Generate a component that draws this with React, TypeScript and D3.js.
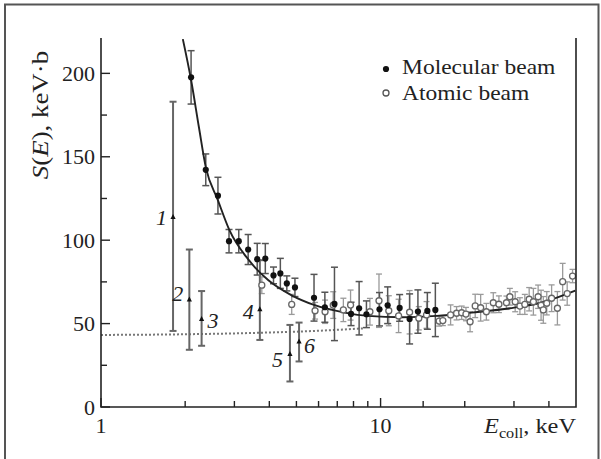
import React from "react";
import * as d3 from "d3";

// ---- data ----
const molE = [2.10, 2.37, 2.62, 2.87, 3.11, 3.36, 3.62, 3.87, 4.14, 4.38, 4.62, 4.94, 5.78, 6.32, 6.84, 7.84, 8.38, 8.9, 9.91, 10.6, 11.7, 12.7, 13.6, 14.7, 15.7];
const molS = [197.6, 142.2, 126.7, 99.4, 99.4, 94.4, 88.6, 89.0, 78.9, 80.1, 74.1, 71.7, 65.5, 59.8, 61.8, 55.8, 59.2, 55.6, 58.6, 61.0, 59.4, 52.8, 57.2, 57.6, 58.2];
const molErr = [16, 9.5, 11, 7, 7, 9, 9.5, 9, 5, 9, 4.5, 5.5, 14, 9, 22, 7, 16, 8, 10, 11, 8, 15, 13, 11, 16];

const atE = [3.76, 4.81, 5.83, 6.33, 6.77, 7.36, 7.81, 9.16, 9.87, 10.7, 11.6, 12.7, 13.7, 14.6, 16.2, 16.7, 17.8, 18.7, 19.5, 20.2, 20.9, 21.8, 22.8, 23.9, 25.3, 26.5, 28.2, 29.0, 30.3, 31.5, 32.8, 34.0, 35.2, 36.6, 37.5, 38.2, 39.3, 40.9, 42.9, 44.8, 46.5, 48.6];
const atS = [73.0, 61.5, 57.7, 57.1, 61.1, 58.2, 61.1, 57.1, 63.7, 57.7, 54.6, 56.8, 53.2, 55.2, 51.5, 51.8, 55.2, 56.2, 56.5, 55.7, 51.1, 60.6, 59.5, 57.1, 62.5, 61.6, 62.5, 66.1, 63.1, 60.5, 61.5, 64.6, 63.1, 66.1, 61.0, 58.2, 62.2, 65.2, 59.2, 75.1, 68.0, 78.5];
const atErr = [5, 6, 5, 7, 8, 7, 9, 8, 16, 9, 10, 13, 7, 8, 3, 3, 6, 4, 4, 4, 6, 7, 8, 5, 6, 5, 4, 5, 6, 5, 6, 7, 8, 7, 9, 8, 7, 8, 10, 11, 7, 4];

const labNames = ["1", "2", "3", "4", "5", "6"];
const labE = [1.81, 2.07, 2.29, 3.70, 4.74, 5.11];
const labS = [113.9, 64.5, 52.8, 58.6, 31.7, 39.2];
const labLo = [45.6, 34.3, 36.7, 40.2, 15.3, 27.3];
const labHi = [183.0, 94.4, 69.5, 88.0, 49.2, 50.6];

const fitE = [1.962, 2.10, 2.24, 2.37, 2.62, 2.88, 3.38, 3.96, 4.79, 5.78, 7.45, 9.01, 11.97, 15.9, 21.2, 29.0, 38.6, 49.7];
const fitS = [220.5, 196.0, 167.7, 143.8, 123.9, 106.0, 88.0, 76.1, 67.1, 61.2, 56.6, 54.6, 53.8, 54.6, 56.6, 59.2, 63.1, 69.7];

const dotE = [1, 2, 3.7, 6, 8.8];
const dotS = [43.2, 43.6, 44.5, 45.7, 47.2];

const yMajor = [0, 50, 100, 150, 200];
const yMinor = [25, 75, 125, 175];
const xMajor = [1, 10];
const xMinor = [2, 3, 4, 5, 6, 7, 8, 9, 14.2, 20, 30, 40];

// ---- layout ----
const W = 601, H = 459;
const L = 101, R = 576, T = 38, B = 407;
const labDx = [-6, -6, 6, -6, -7, 5];
const labDy = [0, -6, 1, 2, 5, 4];
const SX = 1.12; // horizontal stretch of the reference's typeface
const tx: React.CSSProperties = { fontFamily: '"Liberation Serif"' };

export default function App() {
  const x = d3.scaleLog().domain([1, 50]).range([L, R]);
  const y = d3.scaleLinear().domain([0, 221.2]).range([B, T]);

  const fitLine = d3.line<number>().x((_, i) => x(fitE[i])).y((_, i) => y(fitS[i])).curve(d3.curveMonotoneX);
  const dotLine = d3.line<number>().x((_, i) => x(dotE[i])).y((_, i) => y(dotS[i])).curve(d3.curveMonotoneX);

  const errBar = (cx: number, lo: number, hi: number, color: string, w: number, cap: number, key: string) => (
    <g key={key} stroke={color} strokeWidth={w}>
      <line x1={cx} x2={cx} y1={y(lo)} y2={y(hi)} />
      <line x1={cx - cap} x2={cx + cap} y1={y(lo)} y2={y(lo)} />
      <line x1={cx - cap} x2={cx + cap} y1={y(hi)} y2={y(hi)} />
    </g>
  );

  return (
    <svg width={W} height={H} style={{ position: "absolute", left: 0, top: 0, background: "#fff" }}>
      {/* outer frame */}
      <path d={`M5,${H} V4.5 H598.5 V${H}`} fill="none" stroke="#555" strokeWidth={2} />

      <defs>
        <clipPath id="plot">
          <rect x={L} y={T} width={R - L} height={B - T} />
        </clipPath>
      </defs>

      {/* dotted bare line */}
      <path d={dotLine(dotE) || ""} fill="none" stroke="#777" strokeWidth={2} strokeDasharray="2,2" />

      {/* atomic error bars */}
      {atE.map((e, i) => errBar(x(e), atS[i] - atErr[i], atS[i] + atErr[i], "#9a9a9a", 1.3, 3, "ae" + i))}
      {/* molecular error bars */}
      {molE.map((e, i) => errBar(x(e), molS[i] - molErr[i], molS[i] + molErr[i], "#555", 1.5, 3.5, "me" + i))}
      {/* labelled points error bars */}
      {labE.map((e, i) => errBar(x(e), labLo[i], labHi[i], "#666", 2, 3.5, "le" + i))}

      {/* fit curve */}
      <g clipPath="url(#plot)">
        <path d={fitLine(fitE) || ""} fill="none" stroke="#222" strokeWidth={1.9} />
      </g>

      {/* atomic points */}
      {atE.map((e, i) => (
        <circle key={"a" + i} cx={x(e)} cy={y(atS[i])} r={3} fill="#fff" stroke="#666" strokeWidth={1.3} />
      ))}
      {/* molecular points */}
      {molE.map((e, i) => (
        <circle key={"m" + i} cx={x(e)} cy={y(molS[i])} r={3.1} fill="#111" />
      ))}
      {/* labelled points */}
      {labE.map((e, i) => {
        const cx = x(e), cy = y(labS[i]);
        return (
          <g key={"l" + i}>
            <path d={`M${cx},${cy - 3} L${cx + 2.6},${cy + 2} L${cx - 2.6},${cy + 2} Z`} fill="#111" />
            <text x={cx + labDx[i]} y={cy + labDy[i]} dy="0.35em" fontSize={22} fontStyle="italic" style={tx}
              textAnchor={labDx[i] < 0 ? "end" : "start"} fill="#222">{labNames[i]}</text>
          </g>
        );
      })}

      {/* axes box */}
      <path d={`M${L},${T} V${B} H${R} V${T}`} fill="none" stroke="#222" strokeWidth={1.6} />

      {/* y ticks */}
      {yMajor.map((v) => (
        <g key={"ym" + v}>
          <line x1={L} x2={L + 9} y1={y(v)} y2={y(v)} stroke="#222" strokeWidth={1.4} />
          <text x={95} y={y(v)} dy="0.35em" textAnchor="end" fontSize={22} fill="#222" style={tx}>{v}</text>
        </g>
      ))}
      {yMinor.map((v) => (
        <line key={"yn" + v} x1={L} x2={L + 6} y1={y(v)} y2={y(v)} stroke="#222" strokeWidth={1.4} />
      ))}

      {/* x ticks */}
      {xMajor.map((v) => (
        <g key={"xm" + v}>
          <line x1={x(v)} x2={x(v)} y1={B} y2={B - 9} stroke="#222" strokeWidth={1.4} />
          <text x={x(v)} y={433} textAnchor="middle" fontSize={22} fill="#222" style={tx}>{v}</text>
        </g>
      ))}
      {xMinor.map((v) => (
        <line key={"xn" + v} x1={x(v)} x2={x(v)} y1={B} y2={B - 6} stroke="#222" strokeWidth={1.4} />
      ))}

      {/* axis titles */}
      <g transform={`translate(576,433) scale(1.16,1)`}>
        <text x={0} y={0} textAnchor="end" fontSize={21} fill="#222" style={tx}>
          <tspan fontStyle="italic">E</tspan>
          <tspan fontSize={14} dy={5}>coll</tspan>
          <tspan dy={-5}>, keV</tspan>
        </text>
      </g>
      <g transform={`translate(48,115) rotate(-90) scale(${SX},1)`}>
        <text x={0} y={0} textAnchor="middle" fontSize={24} fill="#222" style={tx}>
          <tspan fontStyle="italic">S</tspan>(<tspan fontStyle="italic">E</tspan>), keV·b
        </text>
      </g>

      {/* legend */}
      <circle cx={386} cy={69} r={3.1} fill="#111" />
      <g transform={`translate(402,74) scale(${SX},1)`}>
        <text x={0} y={0} fontSize={21} fill="#222" style={tx}>Molecular beam</text>
      </g>
      <circle cx={386} cy={93} r={3} fill="#fff" stroke="#555" strokeWidth={1.3} />
      <g transform={`translate(402,100) scale(${SX},1)`}>
        <text x={0} y={0} fontSize={21} fill="#222" style={tx}>Atomic beam</text>
      </g>
    </svg>
  );
}
